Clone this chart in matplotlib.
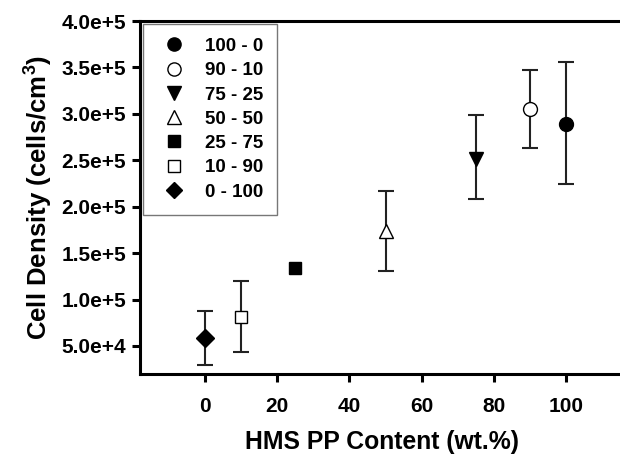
import matplotlib
matplotlib.use("Agg")
import matplotlib.pyplot as plt
from matplotlib.lines import Line2D
from matplotlib.ticker import FuncFormatter

plt.rcParams["font.family"] = ["Liberation Sans", "DejaVu Sans"]
plt.rcParams["font.weight"] = "bold"
plt.rcParams["mathtext.fontset"] = "custom"
plt.rcParams["mathtext.rm"] = "Liberation Sans:bold"
plt.rcParams["mathtext.bf"] = "Liberation Sans:bold"
plt.rcParams["mathtext.default"] = "rm"

# HMS PP content (wt.%) and measured cell density
labels = ["100 - 0", "90 - 10", "75 - 25", "50 - 50", "25 - 75", "10 - 90", "0 - 100"]
pp_content = [100, 90, 75, 50, 25, 10, 0]
density = [2.895e5, 3.057e5, 2.517e5, 1.74e5, 1.339e5, 8.1e4, 5.86e4]
err_low = [2.24e5, 2.632e5, 2.078e5, 1.303e5, 1.339e5, 4.32e4, 2.98e4]
err_high = [3.561e5, 3.474e5, 2.985e5, 2.164e5, 1.339e5, 1.199e5, 8.78e4]

markers = ["o", "o", "v", "^", "s", "s", "D"]
faces = ["black", "white", "black", "white", "black", "white", "black"]
sizes = [10, 10, 10, 10, 8.5, 8.5, 9]


def fmt_sci(v, pos):
    exp = len(str(int(v))) - 1
    return f"{v / 10 ** exp:.1f}e+{exp}"


fig = plt.figure(figsize=(6.2, 4.57), dpi=100)
ax = fig.add_axes([0.226, 0.182, 0.78, 0.772])

handles = []
for i in range(len(labels)):
    lo = density[i] - err_low[i]
    hi = err_high[i] - density[i]
    if lo > 0 or hi > 0:
        ax.errorbar(pp_content[i], density[i], yerr=[[lo], [hi]], fmt="none",
                    ecolor="#222222", elinewidth=1.5, capsize=6, capthick=1.5, zorder=2)
    ax.plot(pp_content[i], density[i], marker=markers[i], linestyle="none",
            mfc=faces[i], mec="black", ms=sizes[i], mew=1.0, zorder=3)
    handles.append(Line2D([], [], marker=markers[i], linestyle="none", mfc=faces[i],
                          mec="black", ms=sizes[i] - 0.5, mew=1.0, label=labels[i]))

ax.set_xlim(-18, 116)
ax.set_ylim(2.0e4, 4.0e5)
ax.set_xticks([0, 20, 40, 60, 80, 100])
ax.set_yticks([5e4, 1e5, 1.5e5, 2e5, 2.5e5, 3e5, 3.5e5, 4e5])
ax.yaxis.set_major_formatter(FuncFormatter(fmt_sci))

for side in ["left", "bottom", "top"]:
    ax.spines[side].set_linewidth(2.2)
ax.spines["right"].set_visible(False)
ax.tick_params(axis="both", direction="out", length=6, width=2.2, labelsize=15, pad=4)
ax.tick_params(axis="x", pad=11)

ax.set_xlabel("HMS PP Content (wt.%)", fontsize=17.8, fontweight="bold", labelpad=10)
ax.set_ylabel("Cell Density (cells/cm$^3$)", fontsize=18.5, fontweight="bold", labelpad=5)

leg = ax.legend(handles=handles, loc="upper left", bbox_to_anchor=(0.0, 1.0), frameon=True,
                fancybox=False, edgecolor="#555555", fontsize=13.5, labelspacing=0.38,
                handletextpad=0.75, borderpad=0.75, borderaxespad=0.15, handlelength=1.8)
leg.get_frame().set_linewidth(1.0)

fig.savefig("out.png", dpi=100)
